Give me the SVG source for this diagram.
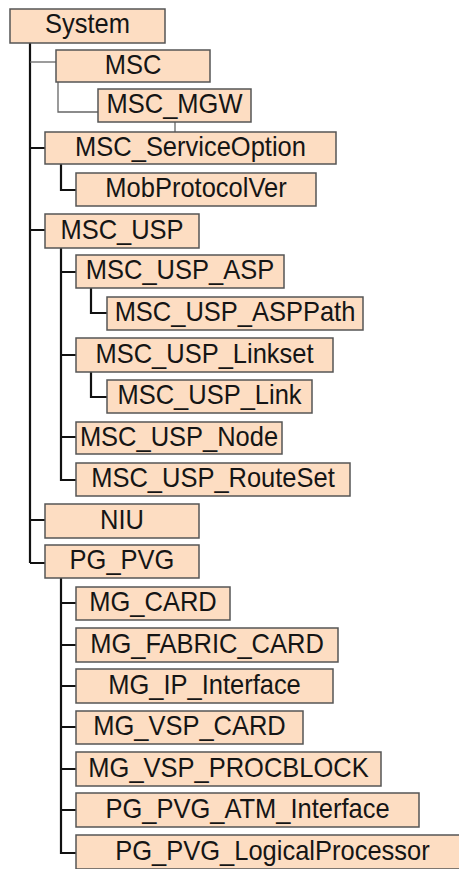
<svg xmlns="http://www.w3.org/2000/svg" width="459" height="869" viewBox="0 0 459 869">
<style>
.box rect{fill:#FDDDC2;stroke:#555;stroke-width:1.5}
.box text{font-family:"Liberation Sans",Arial,sans-serif;font-size:25.5px;fill:#151515;text-anchor:middle}
.c{fill:none;stroke:#111;stroke-width:2.2}
.g{fill:none;stroke:#666;stroke-width:1.3}
</style>
<rect width="459" height="869" fill="#fff"/>
<g id="connectors">
<path class="c" d="M30 43V563"/>
<path class="g" d="M30 62H56"/>
<path class="c" d="M30 148H45M30 230H45M30 520H45M30 563H45"/>
<path class="g" d="M58 82V112H98"/>
<path class="g" d="M175 122V132"/>
<path class="c" d="M61 164V190H76"/>
<path class="c" d="M61 248V480H76M61 272H76M61 355H76M61 437H76"/>
<path class="c" d="M91 288V313H107"/>
<path class="c" d="M91 372V397H107"/>
<path class="c" d="M61 578V853H76M61 603H76M61 645H76M61 686H76M61 727H76M61 769H76M61 810H76"/>
</g>
<g id="n-system" class="box"><rect x="10" y="9" width="155" height="34"/><text transform="translate(87.5 33) scale(1 1.08)">System</text></g>
<g id="n-msc" class="box"><rect x="56" y="50" width="154" height="32"/><text transform="translate(133 74) scale(1 1.08)">MSC</text></g>
<g id="n-msc-mgw" class="box"><rect x="98" y="89" width="153" height="33"/><text transform="translate(174.5 113) scale(1 1.08)">MSC_MGW</text></g>
<g id="n-msc-serviceoption" class="box"><rect x="45" y="132" width="291" height="32"/><text transform="translate(190.5 156) scale(1 1.08)">MSC_ServiceOption</text></g>
<g id="n-mobprotocolver" class="box"><rect x="76" y="173" width="240" height="33"/><text transform="translate(196 197) scale(1 1.08)">MobProtocolVer</text></g>
<g id="n-msc-usp" class="box"><rect x="45" y="214" width="154" height="34"/><text transform="translate(122 239) scale(1 1.08)">MSC_USP</text></g>
<g id="n-msc-usp-asp" class="box"><rect x="76" y="255" width="208" height="33"/><text transform="translate(180 279) scale(1 1.08)">MSC_USP_ASP</text></g>
<g id="n-msc-usp-asppath" class="box"><rect x="107" y="297" width="256" height="33"/><text transform="translate(235 321) scale(1 1.08)">MSC_USP_ASPPath</text></g>
<g id="n-msc-usp-linkset" class="box"><rect x="76" y="338" width="257" height="34"/><text transform="translate(204.5 363) scale(1 1.08)">MSC_USP_Linkset</text></g>
<g id="n-msc-usp-link" class="box"><rect x="107" y="380" width="205" height="33"/><text transform="translate(209.5 404) scale(1 1.08)">MSC_USP_Link</text></g>
<g id="n-msc-usp-node" class="box"><rect x="76" y="422" width="206" height="32"/><text transform="translate(179 446) scale(1 1.08)">MSC_USP_Node</text></g>
<g id="n-msc-usp-routeset" class="box"><rect x="76" y="463" width="274" height="33"/><text transform="translate(213 487) scale(1 1.08)">MSC_USP_RouteSet</text></g>
<g id="n-niu" class="box"><rect x="45" y="504" width="154" height="34"/><text transform="translate(122 529) scale(1 1.08)">NIU</text></g>
<g id="n-pg-pvg" class="box"><rect x="45" y="545" width="154" height="33"/><text transform="translate(122 569) scale(1 1.08)">PG_PVG</text></g>
<g id="n-mg-card" class="box"><rect x="76" y="587" width="154" height="33"/><text transform="translate(153 611) scale(1 1.08)">MG_CARD</text></g>
<g id="n-mg-fabric-card" class="box"><rect x="76" y="628" width="262" height="34"/><text transform="translate(207 653) scale(1 1.08)">MG_FABRIC_CARD</text></g>
<g id="n-mg-ip-interface" class="box"><rect x="76" y="669" width="257" height="34"/><text transform="translate(204.5 694) scale(1 1.08)">MG_IP_Interface</text></g>
<g id="n-mg-vsp-card" class="box"><rect x="76" y="711" width="227" height="33"/><text transform="translate(189.5 735) scale(1 1.08)">MG_VSP_CARD</text></g>
<g id="n-mg-vsp-procblock" class="box"><rect x="76" y="752" width="305" height="34"/><text transform="translate(228.5 777) scale(1 1.08)">MG_VSP_PROCBLOCK</text></g>
<g id="n-pg-pvg-atm-interface" class="box"><rect x="76" y="793" width="343" height="34"/><text transform="translate(247.5 818) scale(1 1.08)">PG_PVG_ATM_Interface</text></g>
<g id="n-pg-pvg-logicalprocessor" class="box"><rect x="76" y="835" width="390" height="34"/><text transform="translate(272.5 860) scale(1 1.08)">PG_PVG_LogicalProcessor</text></g>
</svg>
